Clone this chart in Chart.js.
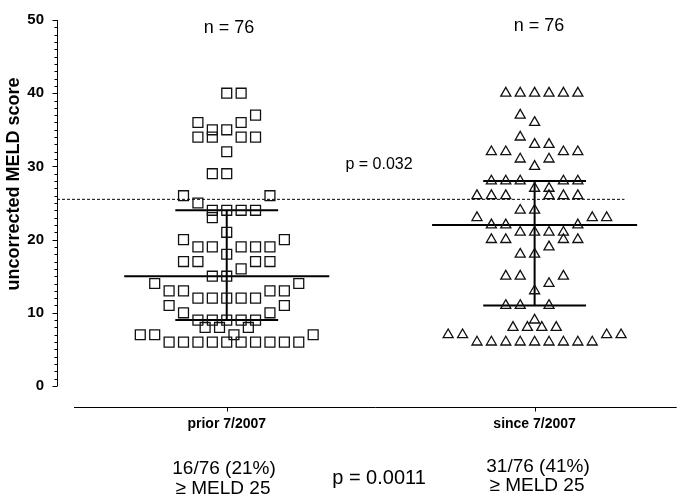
<!DOCTYPE html>
<html>
<head>
<meta charset="utf-8">
<script src="https://cdn.jsdelivr.net/npm/chart.js@4.4.1/dist/chart.umd.min.js"></script>
<style>
  html, body { margin: 0; padding: 0; background: #fff; }
  #wrap { width: 685px; height: 497px; position: relative; }
</style>
</head>
<body>
<div id="wrap"><canvas id="chart"></canvas></div>
<script>
// groups
const categories = ["prior 7/2007", "since 7/2007"];

// squares: MELD score and horizontal slot (in half marker widths)
const priorScores = [40,40, 37, 36,36, 35,35, 34,34,34,34, 32, 29,29,
  26,26, 25, 24,24,24,24, 23, 21, 20,20, 19,19,19,19,19, 18, 17,17,17,17, 16,
  15,15, 14,14, 13,13,13,13, 12,12,12,12,12, 11,11, 10,10, 9,9,9,9,9, 8,8,8,
  7,7,7,7, 6,6,6,6,6,6,6,6,6,6];
const priorSlots = [0,2, 4, -4,2, -2,0, -4,-2,2,4, 0, -2,0,
  -6,6, -4, -2,0,2,4, -2, 0, -6,8, -4,-2,2,4,6, 0, -6,-4,4,6, 2,
  -2,0, -10,10, -8,-6,6,8, -4,-2,0,2,4, -8,8, -6,6, -4,-2,0,2,4, -3,-1,3,
  -12,-10,1,12, -8,-6,-4,-2,0,2,4,6,8,10];

// triangles
const sinceScores = [40,40,40,40,40,40, 37, 36, 34, 33,33, 32,32,32,32, 31,31, 30,
  28,28,28,28,28, 27,27, 26,26,26,26,26,26, 24,24, 23,23,23, 22,22,22,
  21,21,21,21, 20,20,20,20, 19, 18,18, 15,15,15, 14, 13, 11,11,11, 9,
  8,8,8,8, 7,7,7,7, 6,6,6,6,6,6,6,6,6];
const sinceSlots = [-4,-2,0,2,4,6, -2, 0, -2, 0,2, -6,-4,4,6, -2,2, 0,
  -6,-4,-2,4,6, 0,2, -8,-6,-4,2,4,6, -2,0, -8,8,10, -6,-4,6,
  -2,0,2,4, -6,-4,4,6, 2, -2,0, -4,-2,4, 2, 0, -4,-2,2, 0,
  -3,-1,1,3, -12,-10,10,12, -8,-6,-4,-2,0,2,4,6,8];

const medians = [15, 22];
const lowerQuartiles = [9, 11];
const upperQuartiles = [24, 28];
const cutoff = 25.5;

const yTicks = [0, 10, 20, 30, 40, 50];

const slot = 0.0234;      // half marker spacing in x units
const medianHalf = 0.333;
const quartHalf = 0.167;

function toPoints(scores, slots, cat) {
  return scores.map((v, i) => ({ x: cat + slots[i] * slot, y: v }));
}

function hLine(cat, y, half) {
  return [{ x: cat - half, y: y }, { x: cat + half, y: y }];
}

const lineStyle = {
  type: "line", showLine: true, pointRadius: 0, borderColor: "#000",
  borderWidth: 2, fill: false
};

const datasets = [
  {
    data: toPoints(priorScores, priorSlots, 1),
    pointStyle: "rect", pointRadius: 7, borderColor: "#111",
    backgroundColor: "rgba(0,0,0,0)", pointBorderWidth: 1.3
  },
  {
    data: toPoints(sinceScores, sinceSlots, 2),
    pointStyle: "triangle", pointRadius: 5.8, borderColor: "#111",
    backgroundColor: "rgba(0,0,0,0)", pointBorderWidth: 1.3
  },
  {
    ...lineStyle, borderWidth: 1, borderDash: [3, 2],
    data: [{ x: 0.4487, y: cutoff }, { x: 2.2917, y: cutoff }]
  }
];

for (let i = 0; i < 2; i++) {
  const c = i + 1;
  datasets.push({ ...lineStyle, data: hLine(c, medians[i], medianHalf) });
  datasets.push({ ...lineStyle, data: hLine(c, lowerQuartiles[i], quartHalf) });
  datasets.push({ ...lineStyle, data: hLine(c, upperQuartiles[i], quartHalf) });
  datasets.push({ ...lineStyle, data: [{ x: c, y: lowerQuartiles[i] }, { x: c, y: upperQuartiles[i] }] });
}

const FONT = "'Liberation Sans', Arial, sans-serif";

// Prism style axes + text
const extras = {
  id: "extras",
  afterDraw(chart) {
    const ctx = chart.ctx;
    const area = chart.chartArea;
    const xs = chart.scales.x;
    const ys = chart.scales.y;
    ctx.save();
    ctx.strokeStyle = "#000";
    ctx.lineWidth = 1;

    // y axis with minor ticks
    const ax = Math.round(area.left) + 0.5;
    ctx.beginPath();
    ctx.moveTo(ax, ys.getPixelForValue(50));
    ctx.lineTo(ax, ys.getPixelForValue(0));
    for (let v = 0; v <= 50; v++) {
      const py = Math.round(ys.getPixelForValue(v)) + 0.5;
      const len = v % 10 === 0 ? 5 : 3;
      ctx.moveTo(ax - len, py);
      ctx.lineTo(ax, py);
    }
    ctx.stroke();

    // x axis, detached below
    const ay = Math.round(area.bottom) + 21.5;
    ctx.beginPath();
    ctx.moveTo(area.left + 17, ay);
    ctx.lineTo(area.right, ay);
    for (let c = 1; c <= 2; c++) {
      const px = Math.round(xs.getPixelForValue(c)) + 0.5;
      ctx.moveTo(px, ay);
      ctx.lineTo(px, ay + 4);
    }
    ctx.stroke();

    ctx.fillStyle = "#000";
    ctx.textAlign = "center";
    ctx.textBaseline = "middle";

    // y title
    ctx.save();
    ctx.translate(14, 184);
    ctx.rotate(-Math.PI / 2);
    ctx.font = "bold 18px " + FONT;
    ctx.fillText("uncorrected MELD score", 0, 0);
    ctx.restore();

    ctx.font = "18px " + FONT;
    ctx.fillText("n = 76", 229, 28);
    ctx.fillText("n = 76", 539, 26);
    ctx.font = "16px " + FONT;
    ctx.fillText("p = 0.032", 379, 165);

    ctx.font = "19px " + FONT;
    ctx.fillText("16/76 (21%)", 224, 469);
    ctx.fillText("\u2265 MELD 25", 223, 489);
    ctx.fillText("31/76 (41%)", 538, 467);
    ctx.fillText("\u2265 MELD 25", 537, 486);
    ctx.font = "20px " + FONT;
    ctx.fillText("p = 0.0011", 379, 478);
    ctx.restore();
  }
};

new Chart(document.getElementById("chart"), {
  type: "scatter",
  data: { datasets },
  options: {
    responsive: true,
    maintainAspectRatio: false,
    animation: false,
    layout: { padding: { top: 20, right: 0, bottom: 0, left: 0 } },
    plugins: { legend: { display: false }, tooltip: { enabled: false } },
    scales: {
      x: {
        type: "linear",
        min: 0.4487,
        max: 2.4615,
        grid: { display: false },
        border: { display: false },
        afterBuildTicks: s => { s.ticks = [{ value: 1 }, { value: 2 }]; },
        afterFit: s => { s.height = 111; },
        ticks: {
          padding: 22,
          color: "#000",
          font: { family: FONT, size: 14, weight: "bold" },
          callback: v => categories[v - 1]
        }
      },
      y: {
        min: 0,
        max: 50,
        grid: { display: false },
        border: { display: false },
        afterBuildTicks: s => { s.ticks = yTicks.map(v => ({ value: v })); },
        afterFit: s => { s.width = 57; },
        ticks: {
          padding: 5,
          color: "#000",
          font: { family: FONT, size: 15, weight: "bold" }
        }
      }
    }
  },
  plugins: [extras]
});
</script>
</body>
</html>
